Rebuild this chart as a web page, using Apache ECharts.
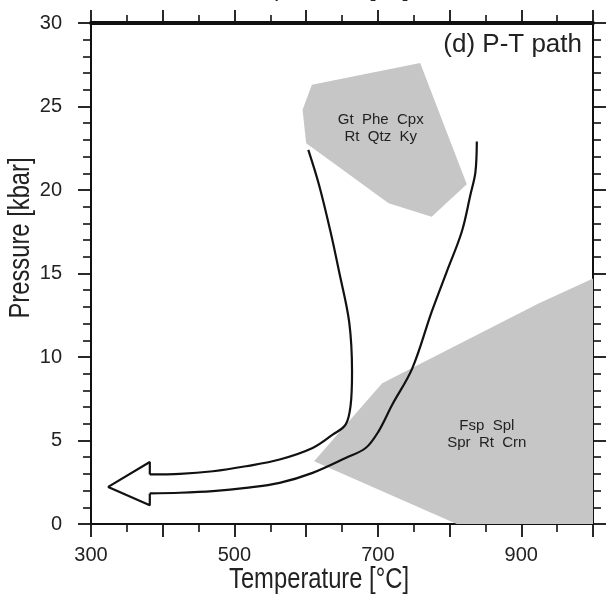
<!DOCTYPE html>
<html>
<head>
<meta charset="utf-8">
<script src="https://cdn.jsdelivr.net/npm/echarts@6/dist/echarts.min.js"></script>
<style>html,body{margin:0;padding:0;background:#fff}#c{width:608px;height:602px}</style>
</head>
<body>
<div id="c"></div>
<script>
// ---- data ----
const tempLabels = [300, 500, 700, 900];
const pressureTicks = [0, 5, 10, 15, 20, 25, 30];

// Stability fields (T [°C], P [kbar])
const hpField = [[608,26.3],[759,27.6],[824,20.35],[775,18.4],[715,19.2],[650,21.25],[600,22.8],[595,24.8]];
const lpField = [[611,3.76],[706,8.43],[924,13.2],[1000,14.7],[1000,0],[810,0]];

// P-T path arrow outline
const pathUpper = [[603,22.4],[618,20.3],[634,17.5],[646,15.1],[660,12.1],[664,9.1],[662,7.1],[655,5.95],[637,5.35],[609,4.55],[563,3.86],[516,3.46],[470,3.16],[424,3.0],[382,2.97]];
const arrowHead = [[382,2.97],[382,3.71],[324,2.22],[382,1.12],[382,1.83]];
const pathLower = [[382,1.83],[424,1.87],[470,1.97],[516,2.16],[563,2.46],[609,3.06],[655,3.95],[683,4.55],[701,5.55],[720,7.14],[748,9.32],[775,12.7],[796,15.1],[817,17.5],[829,19.7],[836,21.05],[838,22.9]];

// Field annotations
const annoT = [704, 852];
const annoP = [23.7, 5.36];
const annoText = ['Gt  Phe  Cpx\nRt  Qtz  Ky', 'Fsp  Spl\nSpr  Rt  Crn'];

// ---- chart ----
const REG = '"Liberation Sans",Arial,sans-serif';
const chart = echarts.init(document.getElementById('c'), null, {renderer:'canvas'});

function polySeries(pts){
  return {
    type:'custom', coordinateSystem:'cartesian2d', xAxisIndex:0, yAxisIndex:0,
    silent:true, z:1, clip:true,
    data: pts,
    renderItem:(params, api)=>{
      if(params.dataIndex!==0) return null;
      return {type:'polygon', shape:{points: pts.map(p=>api.coord(p))}, style:{fill:'#c6c6c6'}};
    }
  };
}
function lineSeries(pts, smooth){
  return {
    type:'line', data: pts, showSymbol:false, symbol:'none', smooth: smooth, z:3, silent:true,
    lineStyle:{color:'#111', width:2.2}, clip:true
  };
}

const axisCommon = {
  type:'value',
  axisLine:{show:true, onZero:false, lineStyle:{color:'#111', width:2}},
  axisTick:{show:true, inside:false, length:13, lineStyle:{color:'#111', width:1.8}},
  minorTick:{show:true, length:8, lineStyle:{color:'#111', width:1.6}},
  splitLine:{show:false}, minorSplitLine:{show:false}
};

const nameText = (txt, x, y, rot) => ({
  type:'text', x:x, y:y, rotation:rot||0, scaleX:0.82,
  style:{text:txt, align:'center', verticalAlign:'middle', font:'29px '+REG, fill:'#222'}
});

chart.setOption({
  animation:false,
  backgroundColor:'#fff',
  grid:{left:91, right:15, top:23, bottom:78, containLabel:false},
  xAxis:[
    Object.assign({}, axisCommon, {
      position:'bottom', min:300, max:1000, interval:100,
      minorTick:Object.assign({}, axisCommon.minorTick, {splitNumber:2}),
      axisLabel:{show:true, margin:21, color:'#222', fontSize:20, fontFamily:REG,
        formatter:v=>tempLabels.includes(v)?String(v):''}
    }),
    Object.assign({}, axisCommon, {
      position:'top', min:300, max:1000, interval:100,
      axisLine:{show:true, onZero:false, lineStyle:{color:'#111', width:4}},
      minorTick:Object.assign({}, axisCommon.minorTick, {splitNumber:2}),
      axisLabel:{show:false}
    })
  ],
  yAxis:[
    Object.assign({}, axisCommon, {
      position:'left', min:0, max:30, interval:5,
      minorTick:Object.assign({}, axisCommon.minorTick, {splitNumber:5}),
      axisLabel:{show:true, margin:29, color:'#222', fontSize:20, fontFamily:REG,
        formatter:v=>pressureTicks.includes(v)?String(v):''}
    }),
    Object.assign({}, axisCommon, {
      position:'right', min:0, max:30, interval:5,
      minorTick:Object.assign({}, axisCommon.minorTick, {splitNumber:5}),
      axisLabel:{show:false}
    })
  ],
  series:[
    polySeries(hpField),
    polySeries(lpField),
    lineSeries(pathUpper, 0.35),
    lineSeries(arrowHead, false),
    lineSeries(pathLower, 0.35),
    {
      type:'custom', coordinateSystem:'cartesian2d', silent:true, z:4,
      data: annoT.map((t,i)=>[t, annoP[i]]),
      renderItem:(params, api)=>{
        const p = api.coord([api.value(0), api.value(1)]);
        return {type:'text', x:p[0], y:p[1], style:{text: annoText[params.dataIndex], align:'center', verticalAlign:'middle',
          font:'15px '+REG, fill:'#222', lineHeight:17}};
      }
    }
  ],
  graphic:[
    nameText('Temperature [°C]', 319, 580),
    nameText('Temperature [°C]', 319, -13),
    nameText('Pressure [kbar]', 21, 238, Math.PI/2),
    {type:'text', x:582, y:45, style:{text:'(d) P-T path', align:'right', verticalAlign:'middle', font:'26px '+REG, fill:'#222'}}
  ]
});
</script>
</body>
</html>
